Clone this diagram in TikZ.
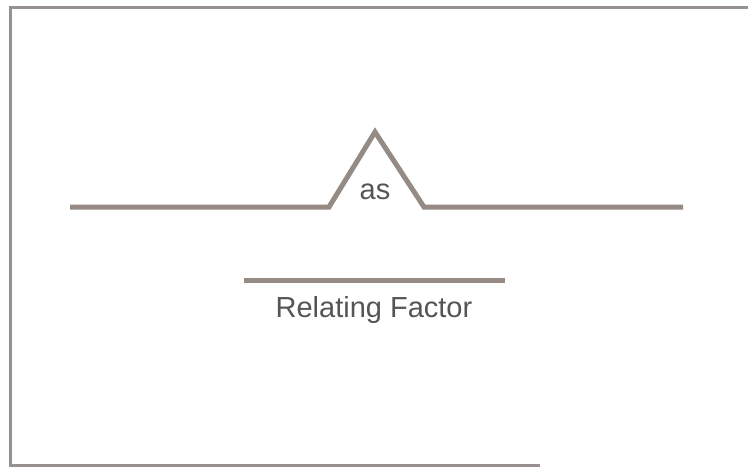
\documentclass[tikz,border=0pt]{standalone}
\usepackage{fontspec}
\setmainfont{Liberation Sans}
\definecolor{linec}{RGB}{150,138,133}
\definecolor{framec}{RGB}{150,145,142}
\definecolor{textc}{RGB}{85,85,85}
\tikzset{
  mainline/.style={draw=linec,line width=5pt},
  framebox/.style={draw=framec,line width=3pt},
  lbl/.style={text=textc,font=\fontsize{29}{33}\selectfont,inner sep=0pt}
}
\begin{document}
\begin{tikzpicture}[x=1pt,y=-1pt]
\useasboundingbox (0,0) rectangle (748,467);
\fill[white] (0,0) rectangle (748,467);
\draw[framebox] (748,7) -- (10,7) -- (10,465) -- (540,465);
\coordinate (l0) at (70,207);
\coordinate (l1) at (329,207);
\coordinate (apex) at (375,132);
\coordinate (l2) at (424,207);
\coordinate (l3) at (683,207);
\draw[mainline,line join=miter] (l0) -- (l1) -- (apex) -- (l2) -- (l3);
\node[lbl] (as) at (375,192) {as};
\coordinate (r0) at (244,280);
\coordinate (r1) at (505,280);
\draw[mainline] (r0) -- (r1);
\node[lbl] (rf) at (374,310) {Relating Factor};
\end{tikzpicture}
\end{document}
